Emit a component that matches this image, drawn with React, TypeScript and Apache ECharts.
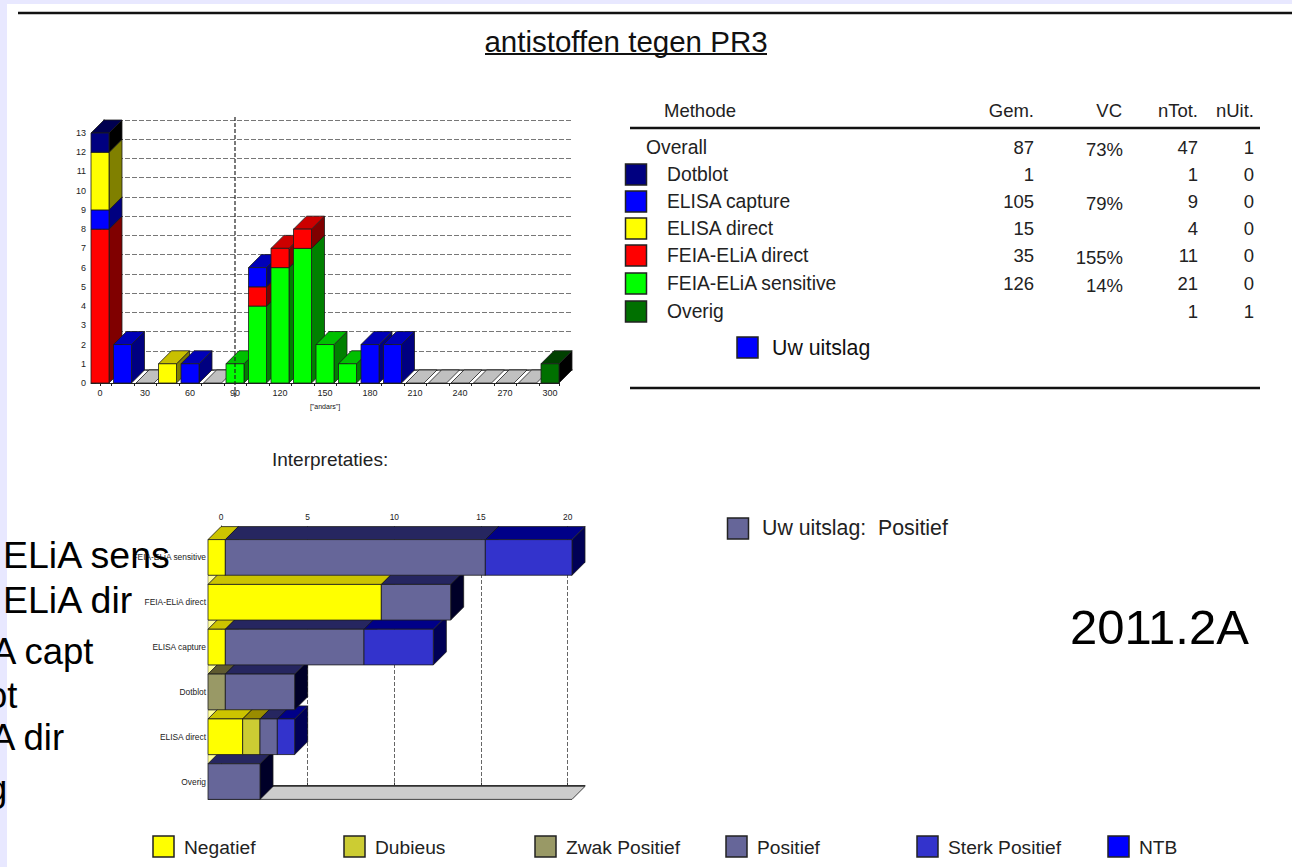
import React, { useEffect, useRef } from "react";
import * as echarts from "echarts";

// ---------- data: top histogram ----------
const bins = [0, 15, 30, 45, 60, 75, 90, 105, 120, 135, 150, 165, 180, 195, 210, 225, 240, 255, 270, 285, 300];
const feiaSensitive = [0, 0, 0, 0, 0, 0, 1, 4, 6, 7, 2, 1, 0, 0, 0, 0, 0, 0, 0, 0, 0];
const feiaDirect = [8, 0, 0, 0, 0, 0, 0, 1, 1, 1, 0, 0, 0, 0, 0, 0, 0, 0, 0, 0, 0];
const elisaCapture = [1, 2, 0, 0, 1, 0, 0, 1, 0, 0, 0, 0, 2, 2, 0, 0, 0, 0, 0, 0, 0];
const elisaDirect = [3, 0, 0, 1, 0, 0, 0, 0, 0, 0, 0, 0, 0, 0, 0, 0, 0, 0, 0, 0, 0];
const dotblot = [1, 0, 0, 0, 0, 0, 0, 0, 0, 0, 0, 0, 0, 0, 0, 0, 0, 0, 0, 0, 0];
const overig = [0, 0, 0, 0, 0, 0, 0, 0, 0, 0, 0, 0, 0, 0, 0, 0, 0, 0, 0, 0, 1];
const xLabelValues = [0, 30, 60, 90, 120, 150, 180, 210, 240, 270, 300];
const xTickValues = [0, 7.5, 22.5, 37.5, 52.5, 67.5, 82.5, 97.5, 112.5, 127.5, 142.5, 157.5, 172.5, 187.5, 202.5, 217.5, 232.5, 247.5, 262.5, 277.5, 292.5, 306];
const uwUitslagValue = 90;

// ---------- data: bottom interpretation chart ----------
const methods = ["FEIA-ELiA sensitive", "FEIA-ELiA direct", "ELISA capture", "Dotblot", "ELISA direct", "Overig"];
const negatief = [1, 10, 1, 0, 2, 0];
const dubieus = [0, 0, 0, 0, 1, 0];
const zwakPositief = [0, 0, 0, 1, 0, 0];
const positief = [15, 4, 8, 4, 1, 3];
const sterkPositief = [5, 0, 4, 0, 1, 0];
const ntb = [0, 0, 0, 0, 0, 0];
const hTickValues = [0, 5, 10, 15, 20];

// ---------- data: table ----------
const tableRows = [
  ["Overall", "87", "73%", "47", "1"],
  ["Dotblot", "1", "", "1", "0"],
  ["ELISA capture", "105", "79%", "9", "0"],
  ["ELISA direct", "15", "", "4", "0"],
  ["FEIA-ELiA direct", "35", "155%", "11", "0"],
  ["FEIA-ELiA sensitive", "126", "14%", "21", "0"],
  ["Overig", "", "", "1", "1"],
];
const tableHeader = ["Methode", "Gem.", "VC", "nTot.", "nUit."];
const tableRowY = [147, 174, 201, 228, 255, 283, 311];
const tableSwatches = ["#000080", "#0000ff", "#ffff00", "#ff0000", "#00ff00", "#007000"];
const overlayTexts = [
  { t: "ELiA sens", x: 3, y: 555, s: 37.5 },
  { t: "ELiA dir", x: 3, y: 600, s: 37.5 },
  { t: "A capt", x: -8, y: 651, s: 36.5 },
  { t: "ot", x: -13, y: 695, s: 36.5 },
  { t: "A dir", x: -9, y: 737, s: 36.5 },
  { t: "g", x: -13, y: 788, s: 36.5 },
];
const legendNames = ["Negatief", "Dubieus", "Zwak Positief", "Positief", "Sterk Positief", "NTB"];

const FONT = "'Liberation Sans', Arial, sans-serif";
const EDGE = "#1c1c1c";
const DEPTH = 13;

const topSeriesDefs = [
  { name: "FEIA-ELiA sensitive", values: feiaSensitive, front: "#00ff00", side: "#008000", top: "#00c000" },
  { name: "FEIA-ELiA direct", values: feiaDirect, front: "#ff0000", side: "#800000", top: "#cc0000" },
  { name: "ELISA capture", values: elisaCapture, front: "#0000ff", side: "#000080", top: "#0000b8" },
  { name: "ELISA direct", values: elisaDirect, front: "#ffff00", side: "#808000", top: "#c8c000" },
  { name: "Dotblot", values: dotblot, front: "#000080", side: "#000000", top: "#000050" },
  { name: "Overig", values: overig, front: "#007000", side: "#000000", top: "#004000" },
];
const bottomSeriesDefs = [
  { name: "Negatief", values: negatief, front: "#ffff00", side: "#808000", top: "#ccc400" },
  { name: "Dubieus", values: dubieus, front: "#cccc33", side: "#666600", top: "#998c00" },
  { name: "Zwak Positief", values: zwakPositief, front: "#999966", side: "#333300", top: "#5f5a30" },
  { name: "Positief", values: positief, front: "#666699", side: "#000028", top: "#262660" },
  { name: "Sterk Positief", values: sterkPositief, front: "#3333cc", side: "#000055", top: "#000088" },
  { name: "NTB", values: ntb, front: "#0000ff", side: "#000080", top: "#0000b8" },
];

function poly(points: number[][], fill: string, z2: number, stroke = EDGE, lineWidth = 0.8) {
  return { type: "polygon", z2, shape: { points }, style: { fill, stroke, lineWidth } };
}

function box(x0: number, yTop: number, x1: number, yBot: number, c: any, z2: number) {
  const d = DEPTH;
  return {
    type: "group",
    children: [
      poly([[x1, yTop], [x1 + d, yTop - d], [x1 + d, yBot - d], [x1, yBot]], c.side, z2),
      poly([[x0, yTop], [x1, yTop], [x1 + d, yTop - d], [x0 + d, yTop - d]], c.top, z2 + 1),
      poly([[x0, yTop], [x1, yTop], [x1, yBot], [x0, yBot]], c.front, z2 + 2),
    ],
  };
}

function buildTopSeries(): any[] {
  const base = bins.map(() => 0);
  const out: any[] = topSeriesDefs.map((def, s) => {
    const data: number[][] = [];
    def.values.forEach((v, i) => {
      if (v > 0) data.push([bins[i], base[i], base[i] + v, i]);
      base[i] += v;
    });
    return {
      type: "custom",
      name: def.name,
      coordinateSystem: "cartesian2d",
      xAxisIndex: 0,
      yAxisIndex: 0,
      encode: { x: 0, y: [1, 2] },
      data,
      renderItem: (_: any, api: any) => {
        const x = api.value(0);
        const hw = api.size([12, 0])[0] / 2;
        const cx = api.coord([x, 0])[0];
        const yb = api.coord([x, api.value(1)])[1];
        const yt = api.coord([x, api.value(2)])[1];
        return box(cx - hw, yt, cx + hw, yb, def, 100 + api.value(3) * 20 + s * 3);
      },
    };
  });
  const empty = bins.map((b, i) => [b, base[i], i]).filter((d) => d[1] === 0);
  out.push({
    type: "custom",
    name: "leeg",
    coordinateSystem: "cartesian2d",
    xAxisIndex: 0,
    yAxisIndex: 0,
    encode: { x: 0, y: 1 },
    data: empty,
    renderItem: (_: any, api: any) => {
      const x = api.value(0);
      const hw = api.size([12, 0])[0] / 2;
      const [cx, y] = api.coord([x, 0]);
      return poly(
        [[cx - hw, y], [cx + hw, y], [cx + hw + DEPTH, y - DEPTH], [cx - hw + DEPTH, y - DEPTH]],
        "#c0c0c0",
        50 + api.value(2) * 20
      );
    },
  });
  out.push({
    type: "custom",
    name: "Uw uitslag",
    coordinateSystem: "cartesian2d",
    xAxisIndex: 0,
    yAxisIndex: 0,
    encode: { x: 0, y: 1 },
    data: [[uwUitslagValue, 0]],
    renderItem: (_: any, api: any) => {
      const [x, y0] = api.coord([api.value(0), 0]);
      const y1 = api.coord([api.value(0), 13])[1];
      return {
        type: "line",
        z2: 2000,
        shape: { x1: x, y1: y0 + 14, x2: x, y2: y1 - 18 },
        style: { stroke: "#222", lineWidth: 1.2, lineDash: [4, 2] },
      };
    },
  });
  return out;
}

function buildBottomSeries(): any[] {
  const base = methods.map(() => 0);
  const out: any[] = bottomSeriesDefs.map((def, s) => {
    const data: any[] = [];
    def.values.forEach((v, i) => {
      if (v > 0) data.push([base[i], base[i] + v, i]);
      base[i] += v;
    });
    return {
      type: "custom",
      name: def.name,
      coordinateSystem: "cartesian2d",
      xAxisIndex: 2,
      yAxisIndex: 2,
      encode: { x: [0, 1], y: 2 },
      data,
      renderItem: (_: any, api: any) => {
        const row = api.value(2);
        const [x0, cy] = api.coord([api.value(0), row]);
        const x1 = api.coord([api.value(1), row])[0];
        const h = api.size([0, 1])[1] * 0.795;
        // upper rows lie in front of the top face of the row beneath them
        return box(x0, cy - h / 2, x1, cy + h / 2, def, 100 + (methods.length - row) * 40 + s * 3);
      },
    };
  });
  // floor of the chart and the small pale notches beside each row's top
  out.push({
    type: "custom",
    name: "vloer",
    coordinateSystem: "cartesian2d",
    xAxisIndex: 2,
    yAxisIndex: 2,
    encode: { x: 0, y: 1 },
    data: [[0, methods.length - 1]],
    renderItem: (_: any, api: any) => {
      const [x0, cy] = api.coord([0, api.value(1)]);
      const x1 = api.coord([21, api.value(1)])[0];
      const y = cy + (api.size([0, 1])[1] * 0.795) / 2;
      return poly([[x0, y], [x1, y], [x1 + DEPTH, y - DEPTH], [x0 + DEPTH, y - DEPTH]], "#cccccc", 50);
    },
  });
  out.push({
    type: "custom",
    name: "rand",
    coordinateSystem: "cartesian2d",
    xAxisIndex: 2,
    yAxisIndex: 2,
    encode: { x: 0, y: 1 },
    data: methods.slice(1).map((_, i) => [0, i + 1]),
    renderItem: (_: any, api: any) => {
      const [x0, cy] = api.coord([0, api.value(1)]);
      const y = cy - (api.size([0, 1])[1] * 0.795) / 2;
      return poly([[x0, y], [x0, y - 9], [x0 + 9, y - 9]], "#ffff99", 60, "#555", 0.5);
    },
  });
  return out;
}

function txt(text: string, x: number, y: number, fontSize: number, align = "left", extra: any = {}) {
  return {
    type: "text",
    x,
    y,
    z: 100,
    style: {
      text,
      fontFamily: FONT,
      fontSize,
      fill: "#111",
      textAlign: align,
      textVerticalAlign: "middle",
      verticalAlign: "middle",
      ...extra,
    },
  };
}
function swatch(x: number, y: number, fill: string) {
  return {
    type: "rect",
    z: 100,
    shape: { x, y, width: 21, height: 21 },
    style: { fill, stroke: "#222", lineWidth: 1.5 },
  };
}
function rule(x1: number, x2: number, y: number, w: number) {
  return { type: "line", z: 100, shape: { x1, y1: y, x2, y2: y }, style: { stroke: "#111", lineWidth: w } };
}

function buildGraphics(): any[] {
  const g: any[] = [
    { type: "rect", z: -10, shape: { x: 7, y: 4, width: 1285, height: 863 }, style: { fill: "#ffffff" } },
    rule(18, 1292, 13, 2.5),
    txt("antistoffen tegen PR3", 626, 41, 29.5, "center"),
    rule(485, 767, 54, 2),
  ];
  const cols = [664, 1034, 1122, 1198, 1254];
  tableHeader.forEach((h, i) => g.push(txt(h, cols[i], 110, 18.5, i === 0 ? "left" : "right", { fill: "#222" })));
  g.push(rule(630, 1260, 128, 2.5));
  tableRows.forEach((r, i) => {
    const y = tableRowY[i];
    g.push(txt(r[0], i === 0 ? 646 : 667, y, 19.3, "left", { fill: "#222" }));
    g.push(txt(r[1], 1034, y, 18.5, "right", { fill: "#222" }));
    g.push(txt(r[2], 1123, y + 2, 18.5, "right", { fill: "#222" }));
    g.push(txt(r[3], 1198, y, 18.5, "right", { fill: "#222" }));
    g.push(txt(r[4], 1254, y, 18.5, "right", { fill: "#222" }));
    if (i > 0) g.push(swatch(625.5, y - 10, tableSwatches[i - 1]));
  });
  g.push(swatch(737, 337, "#0000ff"));
  g.push(txt("Uw uitslag", 772, 348, 21.3, "left"));
  g.push(rule(630, 1260, 388, 2.5));
  g.push(txt("Interpretaties:", 272, 459, 19, "left", { fill: "#222" }));
  g.push(swatch(727.5, 518, "#666699"));
  g.push(txt("Uw uitslag:  Positief", 762, 528, 21.3, "left", { fill: "#222" }));
  g.push(txt("2011.2A", 1070, 627, 49, "left", { fill: "#000" }));
  bottomSeriesDefs.forEach((d, i) => {
    const x = 153 + i * 191;
    g.push(swatch(x, 836, d.front));
    g.push(txt(legendNames[i], x + 31, 847, 19.2, "left", { fill: "#222" }));
  });
  overlayTexts.forEach((o) => g.push(txt(o.t, o.x, o.y, o.s, "left", { fill: "#000" })));
  return g;
}

const topLabel = { fontFamily: FONT, fontSize: 9, color: "#222" };
const rowLabel = { fontFamily: FONT, fontSize: 8.4, color: "#222" };

export default function App() {
  const ref = useRef<HTMLDivElement>(null);
  useEffect(() => {
    const chart = echarts.init(ref.current as HTMLDivElement, null, { renderer: "svg" });
    chart.setOption({
      animation: false,
      backgroundColor: "#e8e8ff",
      textStyle: { fontFamily: FONT },
      grid: [
        { left: 91, top: 133, width: 468, height: 250 },
        { left: 104, top: 120, width: 468, height: 250 },
        { left: 208, top: 535, width: 364, height: 269 },
        { left: 221, top: 526, width: 364, height: 259.5 },
      ],
      xAxis: [
        {
          gridIndex: 0,
          type: "value",
          min: -6,
          max: 306,
          splitLine: { show: false },
          axisLine: { lineStyle: { color: "#222" } },
          axisTick: { length: 3, customValues: xTickValues, lineStyle: { color: "#222" } },
          axisLabel: { ...topLabel, margin: 5, customValues: xLabelValues },
          name: '["andars"]',
          nameLocation: "middle",
          nameGap: 20,
          nameTextStyle: { fontFamily: FONT, fontSize: 7, color: "#111" },
        },
        {
          gridIndex: 1,
          type: "value",
          min: 0,
          max: 1,
          position: "top",
          axisLabel: { show: false },
          axisTick: { show: false },
          splitLine: { show: false },
          axisLine: { show: true, lineStyle: { color: "#444", width: 1.5 } },
        },
        {
          gridIndex: 2,
          type: "value",
          min: 0,
          max: 21,
          show: false,
          splitLine: { show: false },
        },
        {
          gridIndex: 3,
          type: "value",
          min: 0,
          max: 21,
          position: "top",
          axisLine: { show: true, lineStyle: { color: "#333" } },
          axisTick: { length: 3, customValues: hTickValues, lineStyle: { color: "#333" } },
          axisLabel: { ...rowLabel, margin: 5, customValues: hTickValues },
          splitLine: { show: true, lineStyle: { color: "#666", type: [4, 2], width: 1 } },
        },
      ],
      yAxis: [
        {
          gridIndex: 0,
          type: "value",
          min: 0,
          max: 13,
          interval: 1,
          axisLine: { show: true, lineStyle: { color: "#222" } },
          axisTick: { show: true, length: 4, lineStyle: { color: "#333" } },
          minorTick: { show: true, splitNumber: 5, length: 2, lineStyle: { color: "#555" } },
          axisLabel: { ...topLabel, margin: 5 },
          splitLine: { show: false },
        },
        {
          gridIndex: 1,
          type: "value",
          min: 0,
          max: 13,
          interval: 1,
          position: "right",
          axisLine: { show: true, lineStyle: { color: "#444", width: 1.5 } },
          axisTick: { show: false },
          axisLabel: { show: false },
          splitLine: { show: true, lineStyle: { color: "#777", type: [5, 2], width: 1 } },
        },
        {
          gridIndex: 2,
          type: "category",
          data: methods,
          inverse: true,
          axisLine: { show: false },
          axisTick: { show: false },
          axisLabel: { ...rowLabel, margin: 2, interval: 0 },
          splitLine: { show: false },
        },
        {
          gridIndex: 3,
          type: "value",
          min: 0,
          max: 1,
          position: "right",
          axisLine: { show: true, lineStyle: { color: "#333" } },
          axisTick: { show: false },
          axisLabel: { show: false },
          splitLine: { show: false },
        },
      ],
      series: [...buildTopSeries(), ...buildBottomSeries()],
      graphic: buildGraphics(),
    });
    return () => chart.dispose();
  }, []);
  return <div ref={ref} style={{ position: "fixed", left: 0, top: 0, width: 1292, height: 867 }} />;
}
